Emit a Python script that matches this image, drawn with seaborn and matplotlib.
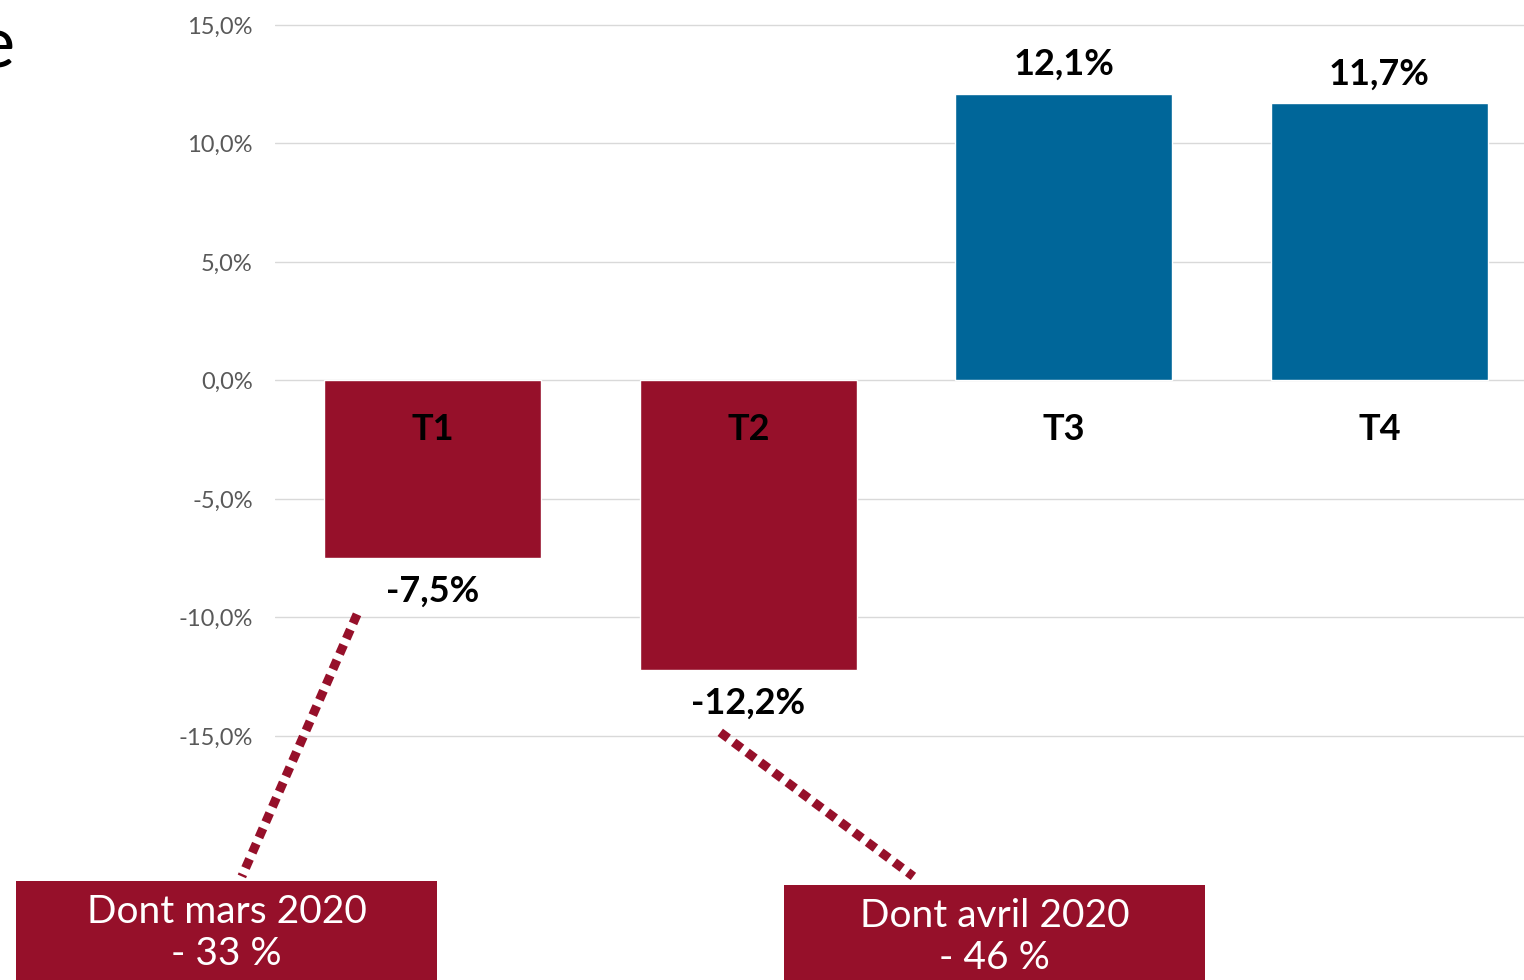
import matplotlib
matplotlib.use("Agg")
import matplotlib.pyplot as plt
import seaborn as sns
import pandas as pd
from matplotlib.patches import Rectangle

categories = ["T1", "T2", "T3", "T4"]
values = [-7.5, -12.2, 12.1, 11.7]
value_labels = ["-7,5%", "-12,2%", "12,1%", "11,7%"]
yticks = [-15, -10, -5, 0, 5, 10, 15]
ytick_labels = ["-15,0%", "-10,0%", "-5,0%", "0,0%", "5,0%", "10,0%", "15,0%"]
callout_texts = ["Dont mars 2020\n- 33 %", "Dont avril 2020\n- 46 %"]

RED = "#96102A"
BLUE = "#006699"

sns.set_theme(style="white")
plt.rcParams["font.family"] = ["Lato", "DejaVu Sans"]

W, H = 1524, 980
fig = plt.figure(figsize=(W / 100, H / 100), dpi=100)
ax = fig.add_axes([275 / W, 0, 1 - 275 / W, 1])

df = pd.DataFrame({"cat": categories, "val": values})
df["sign"] = ["neg" if v < 0 else "pos" for v in values]
sns.barplot(data=df, x="cat", y="val", hue="sign", palette={"neg": RED, "pos": BLUE},
            width=0.688, dodge=False, legend=False, ax=ax, saturation=1)

ax.set_xlim(-0.5, 3.458)
ax.set_ylim(-25.3, 16.05)
ax.set_yticks(yticks)
ax.set_yticklabels(ytick_labels, color="#595959", fontsize=17)
ax.tick_params(axis="y", length=0, pad=16)
ax.set_xticks([])
ax.set_xlabel("")
ax.set_ylabel("")
for s in ax.spines.values():
    s.set_visible(False)
ax.yaxis.grid(True, color="#D9D9D9", linewidth=1)
ax.set_axisbelow(True)

# category labels just below zero line
for i, c in enumerate(categories):
    ax.text(i, -2.07, c, ha="center", va="center", fontsize=26, fontweight="bold", color="black")

# value labels
for i, (v, lab) in enumerate(zip(values, value_labels)):
    off = 21 if v > 0 else -24
    ax.annotate(lab, (i, v), xytext=(0, off), textcoords="offset points",
                ha="center", va="center", fontsize=26, fontweight="bold", color="black")

# dotted connectors
connectors = [((-0.24, -9.87), (-0.605, -20.93)), ((0.911, -14.85), (1.523, -20.93))]
for (x0, y0), (x1, y1) in connectors:
    ax.plot([x0, x1], [y0, y1], color=RED, linewidth=6.5, linestyle=(0, (1.1, 0.75)),
            dash_capstyle="butt", clip_on=False)

# callout boxes (figure pixel coordinates)
boxes = [(16, 881, 421), (784, 885, 421)]
for (bx, by, bw), txt in zip(boxes, callout_texts):
    fig.patches.append(Rectangle((bx / W, 0), bw / W, (H - by) / H, transform=fig.transFigure,
                                 facecolor=RED, edgecolor="none", zorder=5))
    fig.text((bx + bw / 2) / W, 1 - (by + 52) / H, txt, ha="center", va="center",
             fontsize=28, color="white", linespacing=1.22, zorder=6)

# cropped title fragment
fig.text(15 / W, 1 - 68 / H, "e", ha="right", va="baseline", fontsize=52, color="black",
         fontweight="normal")

fig.savefig("out.png", dpi=100)
